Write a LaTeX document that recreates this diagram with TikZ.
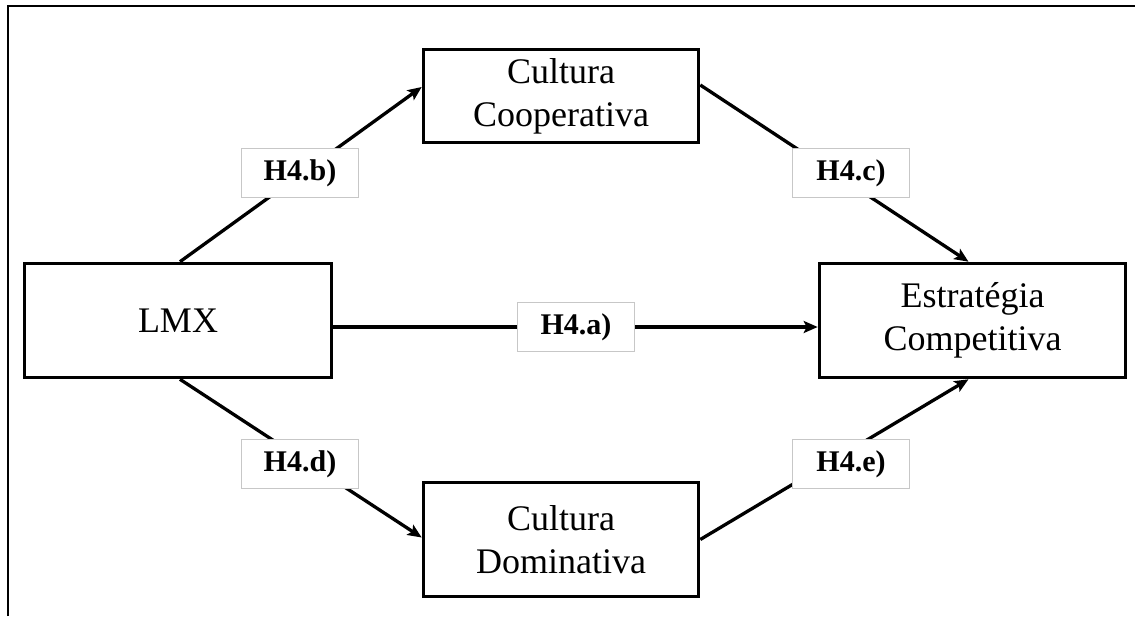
\documentclass[tikz,border=0pt]{standalone}
\usepackage{fontspec}
\setmainfont{Liberation Serif}
\usetikzlibrary{arrows.meta}
\begin{document}
\begin{tikzpicture}[x=1pt,y=-1pt,
  box/.style={draw, line width=3.6pt, fill=white, align=center,
    font=\fontsize{36}{43}\selectfont, inner sep=0pt},
  lbl/.style={draw=black!22, line width=1.4pt, fill=white,
    font=\fontsize{30}{36}\selectfont\bfseries,
    minimum width=117pt, minimum height=49pt, inner sep=0pt},
  link/.style={line width=3.3pt, -{Stealth[length=14pt,width=12pt,inset=3pt]}}]
\useasboundingbox (0,0) rectangle (1135,616);
% open frame
\draw[line width=2.6pt] (8,616) -- (8,6) -- (1135,6);

% constructs
\node[box, minimum width=307pt, minimum height=114pt] (lmx) at (178,320.5) {LMX};
\node[box, minimum width=275pt, minimum height=93pt] (coop) at (561,96) {Cultura\\Cooperativa};
\node[box, minimum width=275pt, minimum height=114pt] (dom) at (561,539.5) {Cultura\\Dominativa};
\node[box, minimum width=306pt, minimum height=114pt] (est) at (972.5,320.5) {Estratégia\\Competitiva};

% hypothesised paths
\draw[link] ([xshift=2pt]lmx.north) -- ([yshift=9pt]coop.west);
\draw[link] ([yshift=11pt]coop.east) -- ([xshift=-4pt]est.north);
\draw[link] ([yshift=-6.5pt]lmx.east) -- ([yshift=-6.5pt]est.west);
\draw[link] ([xshift=2pt]lmx.south) -- ([yshift=2pt]dom.west);
\draw[link] ([yshift=0pt]dom.east) -- ([xshift=-4pt]est.south);

% hypothesis labels
\node[lbl] (hb) at (300,173) {H4.b)};
\node[lbl] (hc) at (851,173) {H4.c)};
\node[lbl] (ha) at (576,327) {H4.a)};
\node[lbl] (hd) at (300,464) {H4.d)};
\node[lbl] (he) at (851,464) {H4.e)};
\end{tikzpicture}
\end{document}
